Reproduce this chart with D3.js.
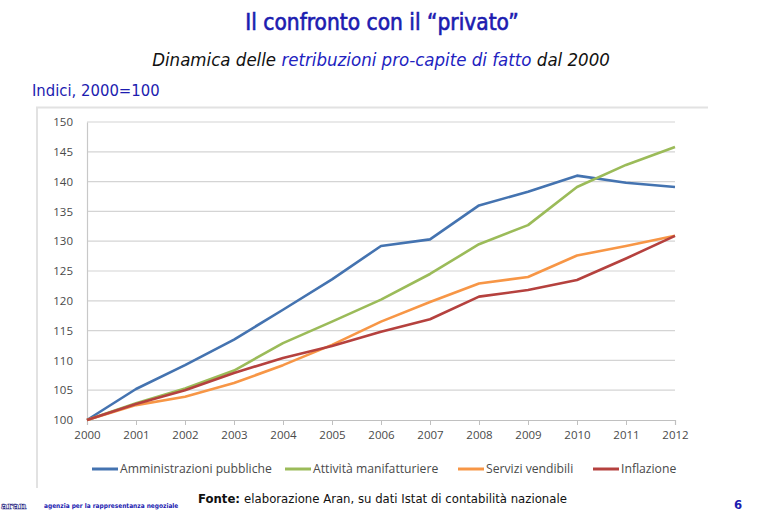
<!DOCTYPE html>
<html>
<head>
<meta charset="utf-8">
<title>Il confronto con il privato</title>
<script src="https://d3js.org/d3.v7.min.js"></script>
<style>
body { margin: 0; background: #fff; }
</style>
</head>
<body>
<div id="chart"></div>
<script>
// data
var years = [2000, 2001, 2002, 2003, 2004, 2005, 2006, 2007, 2008, 2009, 2010, 2011, 2012];
var amministrazioni = [100, 105.2, 109.2, 113.5, 118.5, 123.6, 129.2, 130.3, 136.0, 138.3, 141.0, 139.8, 139.1];
var manifatturiere = [100, 102.8, 105.3, 108.3, 112.9, 116.5, 120.2, 124.5, 129.5, 132.7, 139.1, 142.8, 145.8];
var servizi = [100, 102.5, 103.9, 106.2, 109.2, 112.6, 116.5, 119.8, 122.9, 124.0, 127.6, 129.2, 130.9];
var inflazione = [100, 102.7, 105.0, 107.9, 110.4, 112.4, 114.8, 116.9, 120.7, 121.8, 123.5, 127.1, 130.9];
var seriesNames = ["Amministrazioni pubbliche", "Attività manifatturiere", "Servizi vendibili", "Inflazione"];
var yTicks = [100, 105, 110, 115, 120, 125, 130, 135, 140, 145, 150];

var colors = ['#4473B0', '#9BBB59', '#F79646', '#B5413E'];
var allSeries = [amministrazioni, manifatturiere, servizi, inflazione];

var W = 767, H = 511;
var margin = {top: 122, left: 87, right: 92, bottom: 91};

var svg = d3.select("#chart").append("svg")
    .attr("width", W)
    .attr("height", H);

var slideFont = "'DejaVu Sans Condensed', 'DejaVu Sans', sans-serif";
var chartFont = "'Open Sans', sans-serif";

// slide texts
svg.append("text")
    .attr("x", 382).attr("y", 30)
    .attr("text-anchor", "middle")
    .style("font-family", slideFont)
    .style("font-size", "22.5px")
    .style("fill", "#1c1cb0")
    .style("stroke", "#1c1cb0")
    .style("stroke-width", 0.6)
    .text("Il confronto con il “privato”");

var sub = svg.append("text")
    .attr("x", 381).attr("y", 66)
    .attr("text-anchor", "middle")
    .style("font-family", slideFont)
    .style("font-size", "18.5px")
    .style("font-style", "italic")
    .style("fill", "#111");
sub.append("tspan").text("Dinamica delle ");
sub.append("tspan").style("fill", "#2222c0").text("retribuzioni pro-capite di fatto");
sub.append("tspan").text(" dal 2000");

svg.append("text")
    .attr("x", 32).attr("y", 96)
    .style("font-family", slideFont)
    .style("font-size", "16.5px")
    .style("fill", "#1c1cb0")
    .text("Indici, 2000=100");

// chart area frame
svg.append("path")
    .attr("d", "M37,488 V107.5 H708")
    .attr("fill", "none")
    .attr("stroke", "#e2e2e2")
    .attr("stroke-width", 2);

var width = W - margin.left - margin.right,
    height = H - margin.top - margin.bottom;

var g = svg.append("g")
    .attr("transform", "translate(" + margin.left + "," + margin.top + ")");

var x = d3.scaleLinear()
    .domain([d3.min(years), d3.max(years)])
    .range([0, width]);

var y = d3.scaleLinear()
    .domain([100, 150])
    .range([height, 0]);

// gridlines
g.append("g")
    .selectAll("line")
    .data(yTicks.slice(1))
    .enter().append("line")
        .attr("x1", 0).attr("x2", width)
        .attr("y1", function(d) { return y(d); })
        .attr("y2", function(d) { return y(d); })
        .attr("stroke", "#d4d4d4")
        .attr("stroke-width", 1.2);

// y axis
var yAxis = g.append("g")
    .call(d3.axisLeft(y).tickValues(yTicks).tickSize(0).tickPadding(14));
yAxis.select(".domain").attr("stroke", "#c8c8c8").attr("stroke-width", 1.2);
yAxis.selectAll("text")
    .style("font-family", chartFont)
    .style("font-size", "11.5px")
    .style("fill", "#4a4a4a");

// x axis
var xAxis = g.append("g")
    .attr("transform", "translate(0," + height + ")")
    .call(d3.axisBottom(x).tickValues(years).tickFormat(d3.format("d")).tickSize(5).tickSizeOuter(5).tickPadding(6));
xAxis.select(".domain").attr("stroke", "#c0c0c0").attr("stroke-width", 1.2);
xAxis.selectAll("line").attr("stroke", "#c0c0c0");
xAxis.selectAll("text")
    .style("font-family", chartFont)
    .style("font-size", "11.5px")
    .style("fill", "#4a4a4a");

// lines
var line = d3.line()
    .x(function(d, i) { return x(years[i]); })
    .y(function(d) { return y(d); });

g.append("g")
    .selectAll("path")
    .data(allSeries)
    .enter().append("path")
        .attr("d", line)
        .attr("fill", "none")
        .attr("stroke", function(d, i) { return colors[i]; })
        .attr("stroke-width", 2.6)
        .attr("stroke-linejoin", "round");

// legend
var legendX = [92, 285, 458, 593];
var legend = svg.append("g")
    .selectAll("g")
    .data(seriesNames)
    .enter().append("g")
        .attr("transform", function(d, i) { return "translate(" + legendX[i] + ",469)"; });
legend.append("line")
    .attr("x1", 0).attr("x2", 26)
    .attr("stroke", function(d, i) { return colors[i]; })
    .attr("stroke-width", 3);
legend.append("text")
    .attr("x", 28).attr("dy", "0.35em")
    .style("font-family", chartFont)
    .style("font-size", "12.2px")
    .style("fill", "#4a4a4a")
    .text(function(d) { return d; });

// footer
var fonte = svg.append("text")
    .attr("x", 198).attr("y", 503)
    .style("font-family", slideFont)
    .style("font-size", "13px")
    .style("fill", "#111");
fonte.append("tspan").style("font-weight", "bold").text("Fonte: ");
fonte.append("tspan").text("elaborazione Aran, su dati Istat di contabilità nazionale");

svg.append("text")
    .attr("x", 1).attr("y", 509)
    .style("font-family", "'DejaVu Serif', serif")
    .style("font-size", "10px")
    .style("font-weight", "bold")
    .style("fill", "none")
    .style("stroke", "#1c1c80")
    .style("stroke-width", 0.6)
    .text("aran");
svg.append("text")
    .attr("x", 44).attr("y", 508)
    .style("font-family", slideFont)
    .style("font-size", "6.5px")
    .style("font-weight", "bold")
    .style("fill", "#1c1cb0")
    .text("agenzia per la rappresentanza negoziale");

svg.append("text")
    .attr("x", 738).attr("y", 509)
    .attr("text-anchor", "middle")
    .style("font-family", slideFont)
    .style("font-size", "13px")
    .style("font-weight", "bold")
    .style("fill", "#1c1cb0")
    .text("6");
</script>
</body>
</html>
